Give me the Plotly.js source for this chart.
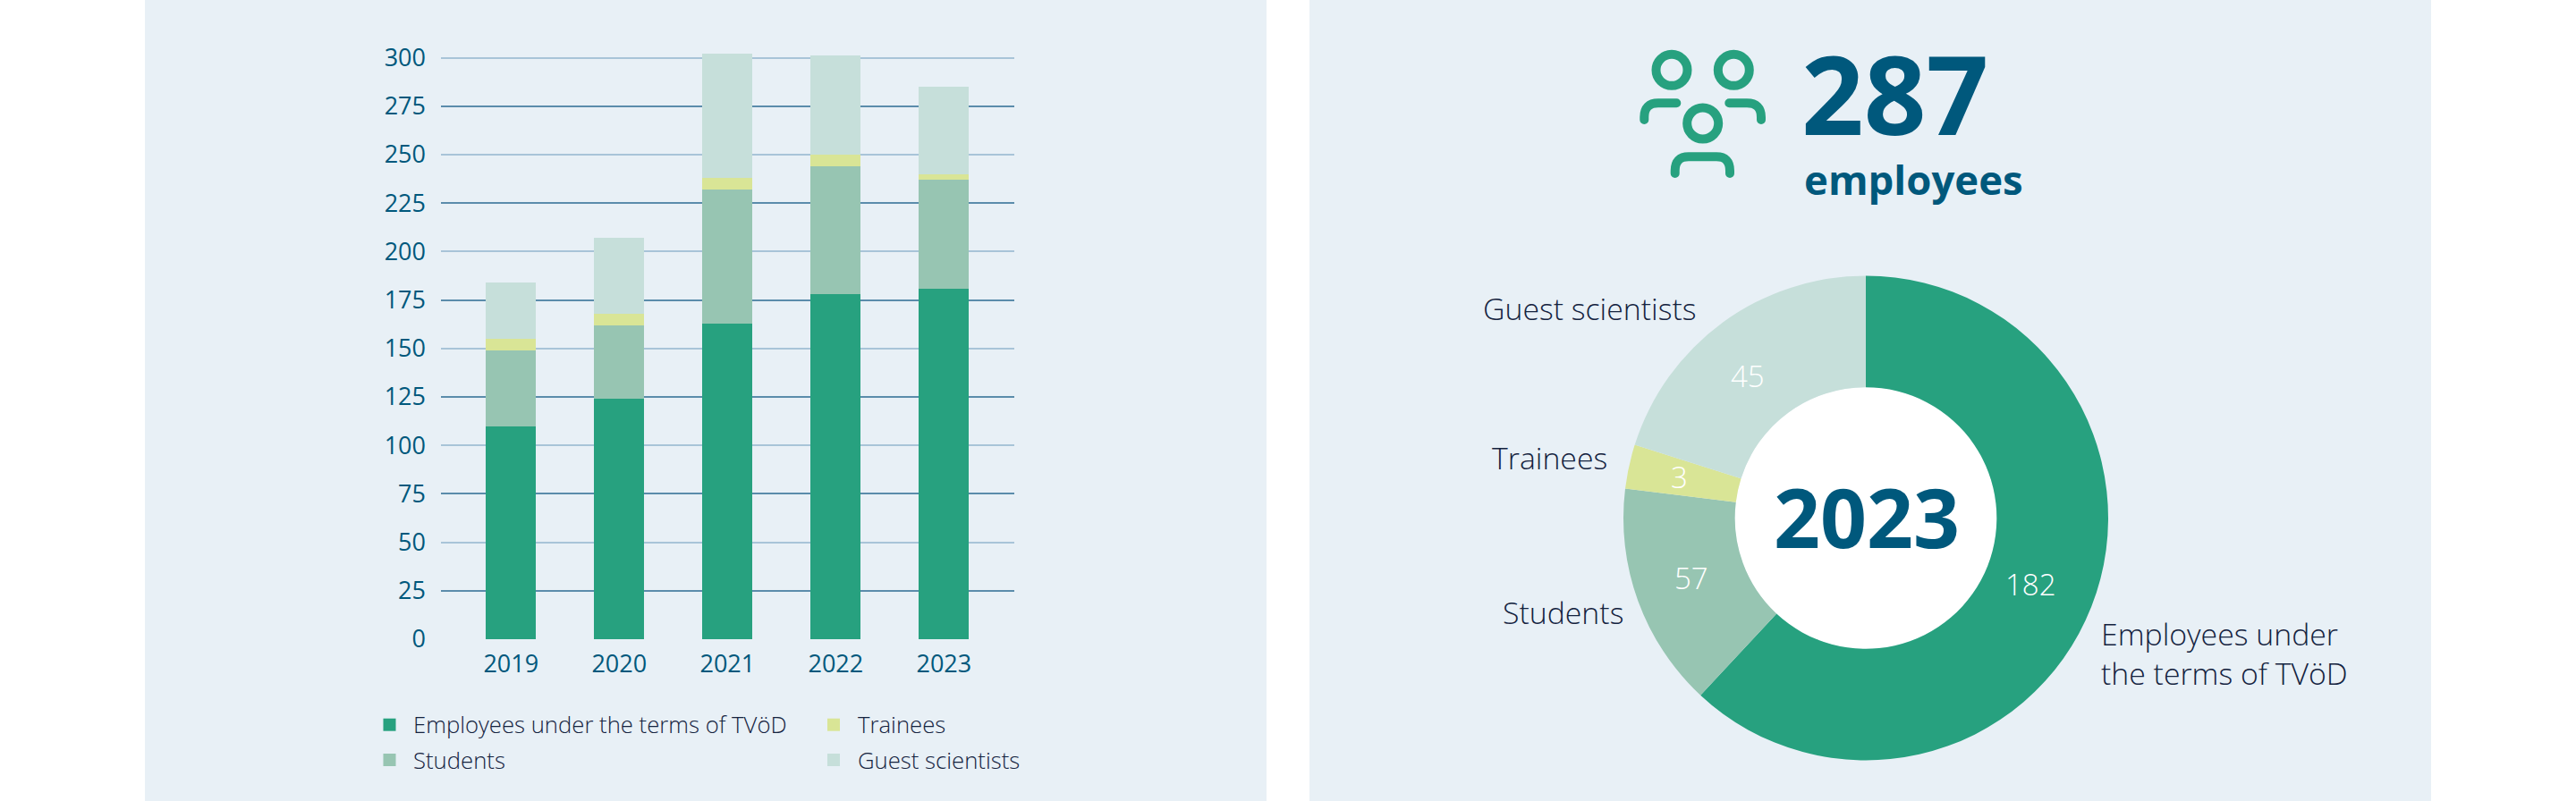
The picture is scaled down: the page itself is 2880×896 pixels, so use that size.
<!DOCTYPE html>
<html><head><meta charset="utf-8">
<script src="https://cdn.plot.ly/plotly-3.0.1.min.js"></script>
<style>html,body{margin:0;padding:0;background:#fff}#c{width:2880px;height:896px}.shapelayer path{stroke-linecap:round}</style>
</head><body><div id="c"></div>
<script>
// ---- data ----
const years = ['2019','2020','2021','2022','2023'];
const seriesNames = ['Employees under the terms of TVöD','Students','Trainees','Guest scientists'];
const employees = [110,124,163,178,181];
const students  = [39,38,69,66,56];
const trainees  = [6,6,6,6,3];
const guests    = [29,39,64,51,45];
const donutLabels = ['Employees under the terms of TVöD','Students','Trainees','Guest scientists'];
// numbers printed on the donut
const donutPrinted = [182,57,3,45];
// arc sizes as actually drawn in the picture (degrees), which differ slightly from the printed numbers
const donutArcs = [223,54,10.6,72.4];
const headline = '287', headlineSub = 'employees', centerYear = '2023';
const colors = ['#27a17f','#97c5b2','#d9e596','#c6dfda'];

const W=2880,H=896, px=x=>x/W, Y=y=>1-y/H;
const BG='#e8f0f6', NAVY='#00587c', INK='#14233f', FF='"Open Sans", sans-serif';
const seriesVals=[employees,students,trainees,guests];
const idx=years.map((_,i)=>i);
const data=seriesVals.map((v,i)=>({type:'bar',x:idx,y:v,name:seriesNames[i],marker:{color:colors[i]},width:0.463,xaxis:'x',yaxis:'y',hoverinfo:'y'}));
data.push({type:'pie',values:donutArcs,labels:donutLabels,textinfo:'none',
  sort:false,direction:'clockwise',rotation:0,hole:0.54,marker:{colors:colors,line:{width:0}},
  domain:{x:[px(1815),px(2357)],y:[Y(850.5),Y(308.5)]},showlegend:false});

const circ=(cx,cy,r,o)=>Object.assign({type:'circle',xref:'paper',yref:'paper',x0:px(cx-r),x1:px(cx+r),y0:Y(cy+r),y1:Y(cy-r)},o);
const rect=(x0,y0,x1,y1,c)=>({type:'rect',xref:'paper',yref:'paper',x0:px(x0),x1:px(x1),y0:Y(y1),y1:Y(y0),fillcolor:c,line:{width:0},layer:'below'});
const pt=(x,y)=>px(x)+' '+Y(y);
const stroke={color:'#27a17f',width:10};
const pathS=d=>({type:'path',xref:'paper',yref:'paper',path:d,line:stroke,fillcolor:'rgba(0,0,0,0)'});
const shapes=[
  rect(162,0,1416,896,BG), rect(1464,0,2718,896,BG),
  circ(2086,579.5,146.5,{fillcolor:'#fff',line:{width:0},layer:'below'}),
  circ(1869,78.3,17.5,{line:stroke}), circ(1938.3,78.3,17.5,{line:stroke}), circ(1903.7,138,17.5,{line:stroke}),
  pathS(`M${pt(1838.3,134)} L${pt(1838.3,131)} Q${pt(1838.3,115.3)} ${pt(1854,115.3)} L${pt(1874.3,115.3)}`),
  pathS(`M${pt(1969,134)} L${pt(1969,131)} Q${pt(1969,115.3)} ${pt(1953,115.3)} L${pt(1933.3,115.3)}`),
  pathS(`M${pt(1872.7,194)} L${pt(1872.7,191)} Q${pt(1872.7,175.3)} ${pt(1888,175.3)} L${pt(1919,175.3)} Q${pt(1934,175.3)} ${pt(1934,191)} L${pt(1934,194)}`)
];
// legend: emp, trainees / students, guests
const legendPos=[[428.5,810.7,460],[428.5,850,460],[925,810.7,957],[925,850,957]];
seriesNames.forEach((n,i)=>{const [sx,sy]=legendPos[i];shapes.push(rect(sx,sy-7,sx+14,sy+7,colors[i]));});
const note=(x,y,t,size,o)=>Object.assign({xref:'paper',yref:'paper',x:px(x),y:Y(y),text:t,showarrow:false,xanchor:'left',yanchor:'middle',
  font:{family:FF,size:size,color:INK,weight:300}},o||{});
const annotations=seriesNames.map((n,i)=>note(legendPos[i][2],legendPos[i][1],n,25.7));
const numPos=[[2270,653],[1891,646],[1877.5,533],[1954,420]];
donutPrinted.forEach((v,i)=>annotations.push(note(numPos[i][0],numPos[i][1],String(v),33,{xanchor:'center',font:{family:FF,size:33,color:'#fff',weight:300}})));
annotations.push(
  note(1898,345,'Guest scientists',33.8,{xanchor:'right'}),
  note(1799,512,'Trainees',33.8,{xanchor:'right'}),
  note(1817,685,'Students',33.8,{xanchor:'right'}),
  note(2347,731,'Employees under<br>the terms of TVöD',33.8,{align:'left'}),
  note(2012,104,headline,122,{font:{family:FF,size:122,color:NAVY,weight:700}}),
  note(2015,200,headlineSub,45.5,{font:{family:FF,size:45.5,color:NAVY,weight:700}}),
  note(2087,578,centerYear,91,{xanchor:'center',font:{family:FF,size:91,color:NAVY,weight:700}})
);
const tf={family:FF,size:27,color:NAVY,weight:400};
const yBase={domain:[Y(715),Y(715-2.168*305)],range:[0,305],fixedrange:true,showline:false,zeroline:false,ticks:'',tickfont:tf,ticklabelstandoff:16,gridwidth:2};
const layout={width:W,height:H,margin:{l:0,r:0,t:0,b:0},paper_bgcolor:'#fff',plot_bgcolor:'rgba(0,0,0,0)',showlegend:false,
  barmode:'stack',shapes,annotations,
  xaxis:{domain:[px(493),px(1134)],range:[-0.647,4.65],tickvals:idx,ticktext:years,tickfont:tf,ticks:'',showgrid:false,zeroline:false,showline:false,ticklabelstandoff:9,anchor:'y'},
  yaxis:Object.assign({},yBase,{tickvals:[0,50,100,150,200,250,300],gridcolor:'#a8c4d8',anchor:'x'}),
  yaxis2:Object.assign({},yBase,{tickvals:[25,75,125,175,225,275],gridcolor:'#5b8cab',overlaying:'y',side:'left',anchor:'x'})
};
// invisible trace so that the second y axis is drawn
data.unshift({type:'scatter',x:[],y:[],xaxis:'x',yaxis:'y2',hoverinfo:'skip',showlegend:false});
Plotly.newPlot('c',data,layout,{staticPlot:true,displayModeBar:false});
</script></body></html>
